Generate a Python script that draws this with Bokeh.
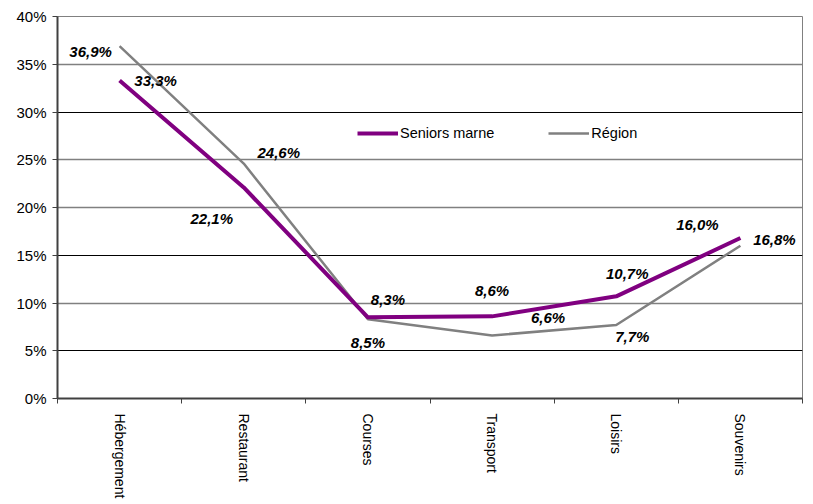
import math
from bokeh.plotting import figure
from bokeh.models import (Range1d, FixedTicker, Grid, PrintfTickFormatter,
                          ColumnDataSource, Legend, LegendItem)
from bokeh.core.properties import value
from bokeh.embed import file_html
from bokeh.resources import INLINE

categories = ["Hébergement", "Restaurant", "Courses", "Transport", "Loisirs", "Souvenirs"]
seniors_marne = [33.3, 22.1, 8.5, 8.6, 10.7, 16.8]
region = [36.9, 24.6, 8.3, 6.6, 7.7, 16.0]
y_ticks = [0, 5, 10, 15, 20, 25, 30, 35, 40]

# label offsets in screen pixels (style only)
seniors_dx = [36, -32, 0, 0, 11, 34]
seniors_dy = [0, 31, 25, -26, -23, 1]
region_dx = [-29, 35, 20, 56, 16, -43]
region_dy = [5, -11, -20, -18, 12, -21]

FONT = "Liberation Sans"
xpos = [i + 0.5 for i in range(len(categories))]

p = figure(width=810, height=504, output_backend="svg", toolbar_location=None,
           x_range=Range1d(0, len(categories)), y_range=Range1d(0, 40),
           min_border_left=57, min_border_right=8, min_border_top=16, min_border_bottom=106)
p.xgrid.visible = False
p.ygrid.visible = False
p.outline_line_color = "#808080"
p.outline_line_width = 1
p.background_fill_color = "white"
p.border_fill_color = "white"

# grid lines
p.add_layout(Grid(dimension=1, ticker=FixedTicker(ticks=[10, 20, 25, 35, 40]),
                  grid_line_color="#808080", grid_line_width=1.5))
p.add_layout(Grid(dimension=1, ticker=FixedTicker(ticks=[5, 15, 30]),
                  grid_line_color="#000000", grid_line_width=1))

# y axis
p.yaxis.ticker = FixedTicker(ticks=y_ticks)
p.yaxis.formatter = PrintfTickFormatter(format="%d%%")
p.yaxis.axis_line_color = "#404040"
p.yaxis.axis_line_width = 2
p.yaxis.major_tick_line_color = "#404040"
p.yaxis.major_tick_out = 5
p.yaxis.major_tick_in = 0
p.yaxis.minor_tick_line_color = None
p.yaxis.major_label_text_font = FONT
p.yaxis.major_label_text_font_size = "15px"
p.yaxis.major_label_text_color = "black"
p.yaxis.major_label_standoff = 6

# x axis
p.xaxis.ticker = FixedTicker(ticks=xpos, minor_ticks=list(range(len(categories) + 1)))
p.xaxis.major_label_overrides = {x: c for x, c in zip(xpos, categories)}
p.xaxis.major_tick_line_color = None
p.xaxis.major_tick_out = 0
p.xaxis.major_tick_in = 0
p.xaxis.minor_tick_line_color = "#404040"
p.xaxis.minor_tick_out = 5
p.xaxis.minor_tick_in = 0
p.xaxis.axis_line_color = "#404040"
p.xaxis.axis_line_width = 2
p.xaxis.major_label_orientation = -math.pi / 2
p.xaxis.major_label_text_font = FONT
p.xaxis.major_label_text_font_size = "14px"
p.xaxis.major_label_text_color = "black"
p.xaxis.major_label_standoff = 10

src_s = ColumnDataSource(dict(x=xpos, y=seniors_marne,
                              t=[f"{v:.1f}%".replace(".", ",") for v in seniors_marne],
                              dx=seniors_dx, dy=seniors_dy))
src_r = ColumnDataSource(dict(x=xpos, y=region,
                              t=[f"{v:.1f}%".replace(".", ",") for v in region],
                              dx=region_dx, dy=region_dy))

r_reg = p.line("x", "y", source=src_r, line_color="#808080", line_width=2.5)
r_sen = p.line("x", "y", source=src_s, line_color="#800080", line_width=4)

for src in (src_s, src_r):
    p.text("x", "y", text="t", source=src, x_offset="dx", y_offset="dy",
           text_font=value(FONT), text_font_size="15px", text_font_style="bold italic",
           text_color="black", text_align="center", text_baseline="middle")

legend = Legend(items=[LegendItem(label="Seniors marne", renderers=[r_sen]),
                       LegendItem(label="Région", renderers=[r_reg])],
                orientation="horizontal", location=(300, 255),
                glyph_width=41, glyph_height=20, label_standoff=2, spacing=54,
                padding=0, margin=0, border_line_color=None,
                background_fill_alpha=0,
                label_text_font=FONT, label_text_font_size="14.5px",
                label_text_color="black")
p.add_layout(legend)

open("out.html", "w").write(file_html(p, INLINE))
